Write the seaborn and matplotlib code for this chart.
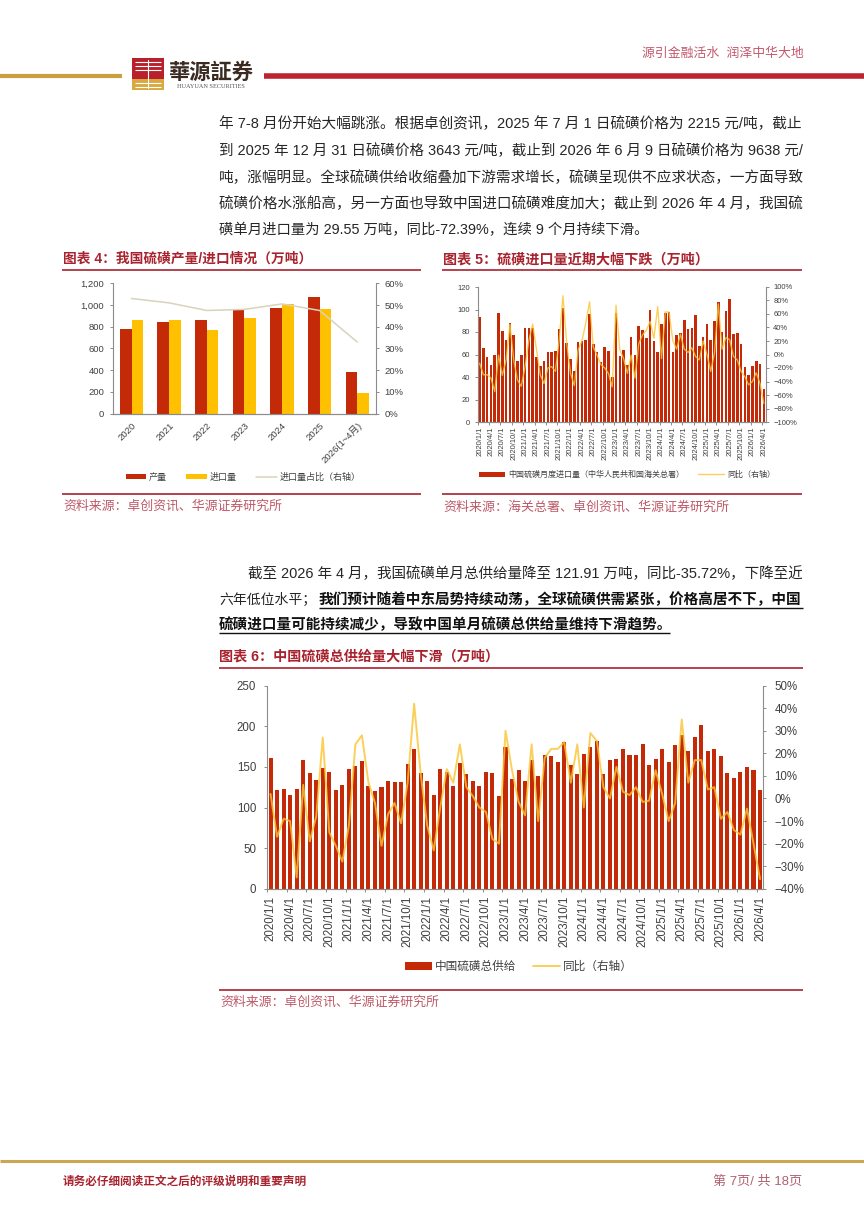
import numpy as np
import pandas as pd
import matplotlib
matplotlib.use('Agg')
import matplotlib.pyplot as plt
from matplotlib.patches import Rectangle
from matplotlib.ticker import StrMethodFormatter
import seaborn as sns

# Chart 4 data
years = ['2020', '2021', '2022', '2023', '2024', '2025', '2026(1~4月)']
output_vals = [775, 840, 860, 955, 975, 1075, 380]
import_vals = [860, 860, 770, 885, 1005, 965, 190]
share_vals = [53, 51, 47.5, 48, 50.5, 47.5, 33]

# Chart 5 data, 2020/1 to 2026/4
monthly_import = [93, 66, 58, 51, 60, 97, 81, 73, 88, 77, 54, 60,
                  84, 84, 84, 58, 50, 54, 62, 62, 63, 83, 101, 70,
                  56, 45, 71, 72, 73, 96, 69, 62, 53, 67, 63, 40,
                  97, 59, 64, 51, 76, 60, 85, 82, 75, 100, 72, 62,
                  87, 97, 98, 62, 77, 79, 91, 83, 83.5, 95, 68, 76,
                  87, 73, 90, 107, 80, 99, 109, 78, 79.5, 69, 49, 42,
                  50, 54, 52, 29.55]
import_yoy = [-13, -30, -30, -35, -55, -1, -31, -8, 45, -8, -38, -47,
              -18, 21, 45, 8, -30, -43, -20, -18, -25, 21, 87, 16,
              -28, -46, 7, 20, 46, 78, 11, -1, -15, -20, -28, -48,
              73, 7, -6, -28, -1, -35, 16, 29, 36, 49, 24, 71,
              -6, 63, 63, 20, 8, 30, 8, 3, 10, -3, -8, 20,
              0, -25, 3, 75, 8, 25, 22, -3, -8, -25, -33, -45,
              -40, -27, -43, -72.39]

# Chart 6 data, 2020/1 to 2026/4
total_supply = [161, 121, 123, 116, 123, 159, 143, 134, 149, 144, 121, 128,
                148, 151, 157, 127, 120, 125, 133, 132, 132, 153, 172, 142,
                133, 115, 147, 144, 127, 155, 141, 133, 127, 144, 142, 114,
                174, 135, 146, 133, 159, 139, 165, 163, 156, 181, 152, 141,
                166, 174, 182, 141, 159, 160, 172, 165, 165, 178, 152, 160,
                172, 156, 177, 189, 169, 187, 201, 170, 172, 163, 143, 136,
                144, 150, 146, 121.91]
supply_yoy = [2, -17, -9, -10, -35, 6, -19, -8, 27, -15, -21, -28,
              -12, 24, 28, 7, -2, -21, -7, -2, -11, 7, 42, 11,
              -12, -23, -4, 13, 7, 24, 5, 1, -4, -6, -18, -20,
              30, 12.5, -1.5, -7.5, 24, -10, 18, 22, 22, 25, 7, 24,
              -4, 29, 25.5, 5, 0, 14, 3, 1.5, 5, -1.5, -1, 12.5,
              2, -10, -2, 35, 7, 17, 17, 4, 5, -9, -6, -14,
              -16, -4.5, -20, -35.72]

month_labels = [f'{y}/{m}/1' for y in range(2020, 2027) for m in (1, 4, 7, 10)][:26]

RED = '#c42a08'
GOLD = '#ffc000'
LINE_Y = '#fbc531'
TITLE_RED = '#a8232e'
SOURCE_RED = '#bd5a68'
TICK = '#404040'
W, H = 864, 1222

sns.set_theme(style='ticks')
plt.rcParams['font.family'] = ['Liberation Sans', 'Noto Sans CJK SC', 'DejaVu Sans']
plt.rcParams['axes.unicode_minus'] = False

fig = plt.figure(figsize=(W / 100, H / 100), dpi=100, facecolor='white')
page = fig.add_axes([0, 0, 1, 1])
page.set_xlim(0, W)
page.set_ylim(H, 0)
page.axis('off')
renderer = fig.canvas.get_renderer()


def box(x0, x1, y0, y1):
    return fig.add_axes([x0 / W, 1 - y1 / H, (x1 - x0) / W, (y1 - y0) / H])


def fit_text(s, x0, x1, y, size=10, **kw):
    # scale the font so the line runs from x0 to x1
    t = page.text(x0, y, s, fontsize=size, va='center', ha='left', **kw)
    t.set_fontsize(size * (x1 - x0) / t.get_window_extent(renderer).width)
    return t


def rule(x0, x1, y, color, lw):
    page.plot([x0, x1], [y, y], color=color, lw=lw, solid_capstyle='butt')


def style_axes(ax, ax2, size, pad):
    ax.spines['top'].set_visible(False)
    ax2.spines['top'].set_visible(False)
    ax.spines['right'].set_visible(False)
    ax2.spines['left'].set_visible(False)
    for a in (ax, ax2):
        for s in a.spines.values():
            s.set_color('#8c8c8c')
            s.set_linewidth(0.8)
        a.tick_params(axis='y', labelsize=size, labelcolor=TICK, color='#8c8c8c',
                      length=2, width=0.7, pad=pad)
        a.set_xlabel('')
        a.set_ylabel('')
    ax.patch.set_alpha(0)
    ax2.patch.set_alpha(0)


def monthly_chart(box_px, bars, yoy, ylim, yticks, rlim, rticks, size, bar_w, lw, pad, xpad):
    ax = box(*box_px)
    n = len(bars)
    pos = np.arange(n)
    df = pd.DataFrame({'pos': pos, 'bars': bars, 'yoy': yoy})
    sns.barplot(data=df, x='pos', y='bars', color=RED, saturation=1, width=bar_w,
                linewidth=0, ax=ax)
    ax.set_xlim(-0.5, n - 0.5)
    ax.set_ylim(*ylim)
    ax.set_yticks(yticks)
    ax2 = ax.twinx()
    sns.lineplot(data=df, x='pos', y='yoy', color=LINE_Y, lw=lw, alpha=0.8, ax=ax2)
    ax2.set_ylim(*rlim)
    ax2.set_yticks(rticks)
    ax2.set_yticklabels([f'{v}%'.replace('-', '−') for v in rticks])
    ax.set_xticks(pos[::3])
    ax.set_xticklabels(month_labels, rotation=90, fontsize=size, color=TICK)
    ax.set_xticks(pos[::3] - 0.5, minor=True)
    ax.tick_params(axis='x', which='major', length=0, pad=xpad)
    ax.tick_params(axis='x', which='minor', length=2, width=0.7, color='#8c8c8c')
    style_axes(ax, ax2, size, pad)
    return ax, ax2


# Header
fit_text('源引金融活水  润泽中华大地', 642, 803, 54, color='#c4596e')
rule(0, 122, 75.5, '#c8a03c', 3)
rule(264, W, 75.5, '#bd2430', 4)
page.add_patch(Rectangle((132, 58), 32, 21, fc='#b8202c', ec='none'))
page.add_patch(Rectangle((132, 79), 32, 11, fc='#d9a93f', ec='none'))
for yy in (62, 66, 70, 83, 87):
    rule(135, 161, yy, 'white', 0.8)
page.plot([148, 148], [60, 88], color='white', lw=0.8)
fit_text('華源証券', 168, 253, 72, family=['Noto Sans CJK TC'], fontweight='bold', color='#3a2a22')
fit_text('HUAYUAN SECURITIES', 177, 245, 86, family=['Liberation Serif'], color='#555555')

# Top paragraph
body = [('年 7-8 月份开始大幅跳涨。根据卓创资讯，2025 年 7 月 1 日硫磺价格为 2215 元/吨，截止', 219, 803, 124),
        ('到 2025 年 12 月 31 日硫磺价格 3643 元/吨，截止到 2026 年 6 月 9 日硫磺价格为 9638 元/', 219, 803, 151),
        ('吨，涨幅明显。全球硫磺供给收缩叠加下游需求增长，硫磺呈现供不应求状态，一方面导致', 219, 803, 178),
        ('硫磺价格水涨船高，另一方面也导致中国进口硫磺难度加大；截止到 2026 年 4 月，我国硫', 219, 803, 204),
        ('磺单月进口量为 29.55 万吨，同比-72.39%，连续 9 个月持续下滑。', 219, 647, 230)]
for s, x0, x1, y in body:
    fit_text(s, x0, x1, y, color='#262626')

# Chart 4
fit_text('图表 4：我国硫磺产量/进口情况（万吨）', 63, 311, 259, fontweight='bold', color=TITLE_RED)
rule(62, 421, 270, TITLE_RED, 1.2)
ax4 = box(112.7, 376, 283.3, 413.7)
df4 = pd.DataFrame({'year': years * 2, 'val': output_vals + import_vals,
                    'kind': ['产量'] * 7 + ['进口量'] * 7})
sns.barplot(data=df4, x='year', y='val', hue='kind', palette=[RED, GOLD], saturation=1,
            width=0.62, gap=0, linewidth=0, legend=False, ax=ax4)
ax4.set_xlim(-0.5, 6.5)
ax4.set_ylim(0, 1200)
ax4.set_yticks(range(0, 1201, 200))
ax4.yaxis.set_major_formatter(StrMethodFormatter('{x:,.0f}'))
ax4r = ax4.twinx()
sns.lineplot(x=list(range(7)), y=share_vals, color='#d8d3bc', lw=1.1, ax=ax4r)
ax4r.set_ylim(0, 60)
ax4r.set_yticks(range(0, 61, 10))
ax4r.set_yticklabels([f'{v}%' for v in range(0, 61, 10)])
ax4.tick_params(axis='x', length=0, pad=5)
ax4.set_xticks(range(7))
ax4.set_xticklabels(years, rotation=45, ha='right', rotation_mode='anchor', fontsize=6.8, color=TICK)
style_axes(ax4, ax4r, 6.8, 4)
fig.legend(handles=[ax4.containers[0][0], ax4.containers[1][0], ax4r.lines[0]],
           labels=['产量', '进口量', '进口量占比（右轴）'], loc='center',
           bbox_to_anchor=(243 / W, 1 - 477 / H), ncol=3, frameon=False, fontsize=6.5,
           handlelength=2.3, handleheight=0.6, columnspacing=2.2, handletextpad=0.25,
           labelcolor=TICK)
rule(62, 421, 494, TITLE_RED, 1.2)
fit_text('资料来源：卓创资讯、华源证券研究所', 63, 283, 507, color=SOURCE_RED)

# Chart 5
fit_text('图表 5：硫磺进口量近期大幅下跌（万吨）', 443, 708, 259, fontweight='bold', color=TITLE_RED)
rule(442, 802, 270, TITLE_RED, 1.2)
ax5, ax5r = monthly_chart((477.7, 765.7, 287, 422), monthly_import, import_yoy, (0, 120),
                          range(0, 121, 20), (-100, 100), list(range(-100, 101, 20)), 5.5, 0.68, 1.0, 3.5, 3)
fig.legend(handles=[ax5.containers[0][0], ax5r.lines[0]],
           labels=['中国硫磺月度进口量（中华人民共和国海关总署）', '同比（右轴）'], loc='center',
           bbox_to_anchor=(627 / W, 1 - 475 / H), ncol=2, frameon=False, fontsize=5.8,
           handlelength=3.2, handleheight=0.6, columnspacing=1.8, handletextpad=0.4,
           labelcolor=TICK)
rule(442, 802, 494, TITLE_RED, 1.2)
fit_text('资料来源：海关总署、卓创资讯、华源证券研究所', 443, 729, 507, color=SOURCE_RED)

# Middle paragraph
fit_text('截至 2026 年 4 月，我国硫磺单月总供给量降至 121.91 万吨，同比-35.72%，下降至近', 248, 803, 574,
         color='#262626')
fit_text('六年低位水平；', 219, 316, 600, color='#262626')
fit_text('我们预计随着中东局势持续动荡，全球硫磺供需紧张，价格高居不下，中国', 319, 803, 600,
         fontweight='bold', color='#111111')
fit_text('硫磺进口量可能持续减少，导致中国单月硫磺总供给量维持下滑趋势。', 219, 670, 625,
         fontweight='bold', color='#111111')
rule(319, 803, 608, '#111111', 1)
rule(219, 670, 633, '#111111', 1)

# Chart 6
fit_text('图表 6：中国硫磺总供给量大幅下滑（万吨）', 219, 499, 656, fontweight='bold', color=TITLE_RED)
rule(219, 803, 668, TITLE_RED, 1.2)
ax6, ax6r = monthly_chart((267.3, 763.3, 685.7, 888.7), total_supply, supply_yoy, (0, 250),
                          range(0, 251, 50), (-40, 50), list(range(-40, 51, 10)), 8.3, 0.62, 1.4, 6, 5)
fig.legend(handles=[ax6.containers[0][0], ax6r.lines[0]],
           labels=['中国硫磺总供给', '同比（右轴）'], loc='center',
           bbox_to_anchor=(519 / W, 1 - 967 / H), ncol=2, frameon=False, fontsize=8.4,
           handlelength=2.3, handleheight=0.6, columnspacing=1.4, handletextpad=0.3,
           labelcolor=TICK)
rule(219, 803, 990, TITLE_RED, 1.2)
fit_text('资料来源：卓创资讯、华源证券研究所', 220, 440, 1003, color=SOURCE_RED)

# Footer
rule(0, W, 1161, '#c8a850', 2.2)
fit_text('请务必仔细阅读正文之后的评级说明和重要声明', 63, 306, 1182, fontweight='bold', color='#a8232e')
fit_text('第 7页/ 共 18页', 713, 802, 1182, color='#b06070')

fig.savefig('out.png', dpi=100)
